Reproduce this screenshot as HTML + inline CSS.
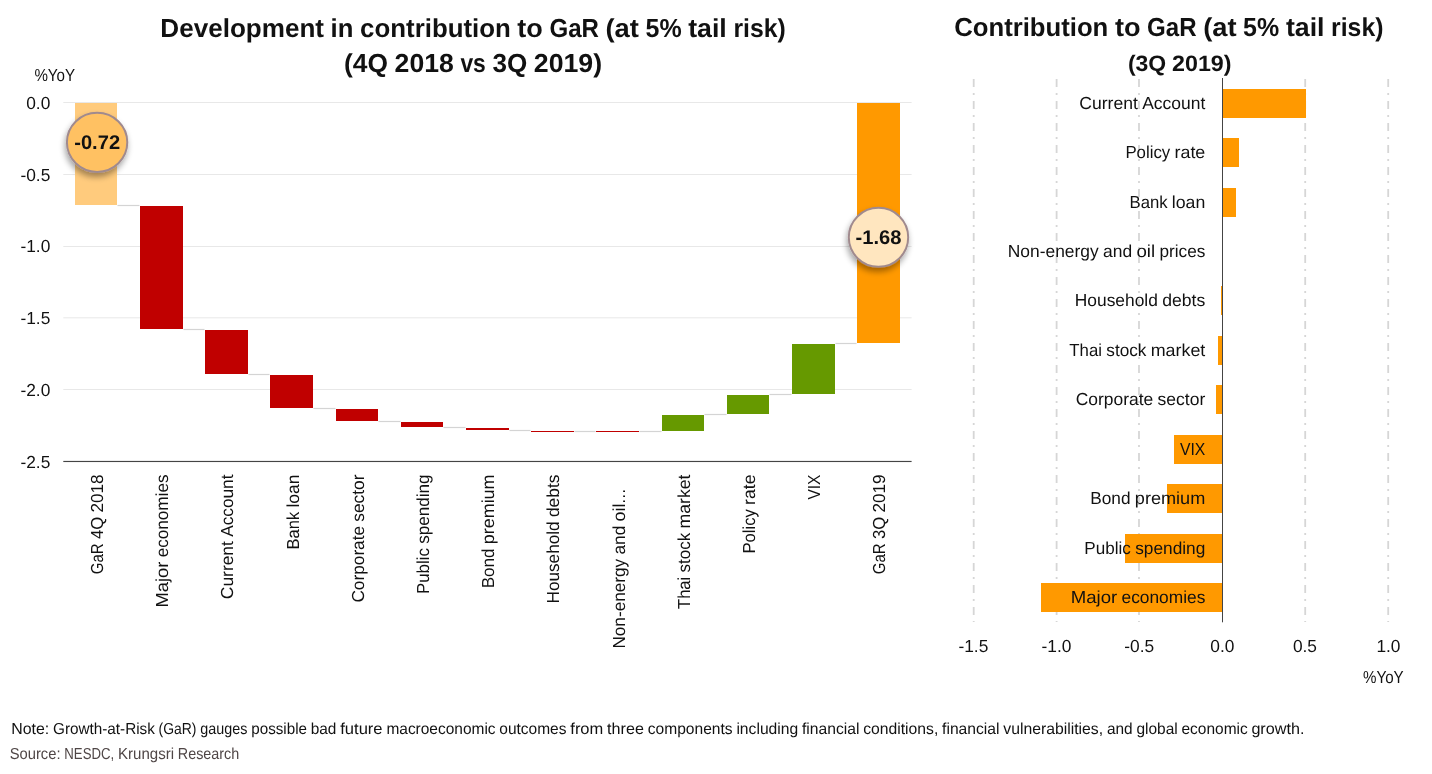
<!DOCTYPE html>
<html><head><meta charset="utf-8"><title>GaR contribution</title>
<style>html,body{margin:0;padding:0;background:#fff}svg{display:block}text{font-family:'Liberation Sans', sans-serif;text-rendering:geometricPrecision}</style></head>
<body><svg width="1432" height="774" viewBox="0 0 1432 774">
<defs><filter id="sh" x="-30%" y="-30%" width="160%" height="170%"><feGaussianBlur in="SourceAlpha" stdDeviation="3"/><feOffset dx="-1.5" dy="3.5"/><feComponentTransfer><feFuncA type="linear" slope="0.37"/></feComponentTransfer><feMerge><feMergeNode/><feMergeNode in="SourceGraphic"/></feMerge></filter></defs>
<rect width="1432" height="774" fill="#fff"/>
<rect x="63.3" y="102" width="848.3" height="1" fill="#e8e8e8"/>
<rect x="63.3" y="174" width="848.3" height="1" fill="#e8e8e8"/>
<rect x="63.3" y="246" width="848.3" height="1" fill="#e8e8e8"/>
<rect x="63.3" y="317.3" width="848.3" height="1" fill="#e8e8e8"/>
<rect x="63.3" y="389" width="848.3" height="1" fill="#e8e8e8"/>
<rect x="117.5" y="204.9" width="22.0" height="1.2" fill="#d4d4d4"/>
<rect x="183.5" y="328.9" width="21.0" height="1.2" fill="#d4d4d4"/>
<rect x="248.5" y="373.9" width="21.0" height="1.2" fill="#d4d4d4"/>
<rect x="313.5" y="407.9" width="22.0" height="1.2" fill="#d4d4d4"/>
<rect x="378.5" y="420.9" width="22.0" height="1.2" fill="#d4d4d4"/>
<rect x="443.5" y="426.9" width="22.0" height="1.2" fill="#d4d4d4"/>
<rect x="509.5" y="429.9" width="21.0" height="1.2" fill="#d4d4d4"/>
<rect x="574.5" y="430.9" width="21.0" height="1.2" fill="#d4d4d4"/>
<rect x="639.5" y="430.9" width="22.0" height="1.2" fill="#d4d4d4"/>
<rect x="704.5" y="413.9" width="22.0" height="1.2" fill="#d4d4d4"/>
<rect x="769.5" y="393.9" width="22.0" height="1.2" fill="#d4d4d4"/>
<rect x="835.5" y="342.9" width="21.0" height="1.2" fill="#d4d4d4"/>
<rect x="75" y="103" width="42" height="102" fill="#FFCB7D"/>
<rect x="140" y="206" width="43" height="123" fill="#C00000"/>
<rect x="205" y="330" width="43" height="44" fill="#C00000"/>
<rect x="270" y="375" width="43" height="33" fill="#C00000"/>
<rect x="336" y="409" width="42" height="12" fill="#C00000"/>
<rect x="401" y="422" width="42" height="5" fill="#C00000"/>
<rect x="466" y="428" width="43" height="2" fill="#C00000"/>
<rect x="531" y="431" width="43" height="1" fill="#C00000"/>
<rect x="596" y="431" width="43" height="1" fill="#C00000"/>
<rect x="662" y="415" width="42" height="16" fill="#669900"/>
<rect x="727" y="395" width="42" height="19" fill="#669900"/>
<rect x="792" y="344" width="43" height="50" fill="#669900"/>
<rect x="857" y="103" width="43" height="240" fill="#FF9900"/>
<rect x="63.3" y="460.9" width="848.3" height="1.15" fill="#444"/>
<text transform="translate(50.3 108.7)" font-size="17.4" fill="#111"><tspan x="-24.1" textLength="24.1" lengthAdjust="spacingAndGlyphs">0.0</tspan></text>
<text transform="translate(50.3 180.5)" font-size="17.4" fill="#111"><tspan x="-29.9" textLength="29.9" lengthAdjust="spacingAndGlyphs">-0.5</tspan></text>
<text transform="translate(50.3 252.4)" font-size="17.4" fill="#111"><tspan x="-29.9" textLength="29.9" lengthAdjust="spacingAndGlyphs">-1.0</tspan></text>
<text transform="translate(50.3 324.2)" font-size="17.4" fill="#111"><tspan x="-29.9" textLength="29.9" lengthAdjust="spacingAndGlyphs">-1.5</tspan></text>
<text transform="translate(50.3 396.0)" font-size="17.4" fill="#111"><tspan x="-29.9" textLength="29.9" lengthAdjust="spacingAndGlyphs">-2.0</tspan></text>
<text transform="translate(50.3 467.8)" font-size="17.4" fill="#111"><tspan x="-29.9" textLength="29.9" lengthAdjust="spacingAndGlyphs">-2.5</tspan></text>
<text transform="translate(34.4 80.9)" font-size="17.4" fill="#111"><tspan x="0.0" textLength="40.7" lengthAdjust="spacingAndGlyphs">%YoY</tspan></text>
<text transform="translate(102.8 474.5) rotate(-90)" font-size="17.4" fill="#111"><tspan x="-99.8" textLength="31.0" lengthAdjust="spacingAndGlyphs">GaR</tspan> <tspan x="-64.5" textLength="22.2" lengthAdjust="spacingAndGlyphs">4Q</tspan> <tspan x="-38.1" textLength="38.1" lengthAdjust="spacingAndGlyphs">2018</tspan></text>
<text transform="translate(168.0 474.5) rotate(-90)" font-size="17.4" fill="#111"><tspan x="-133.1" textLength="46.0" lengthAdjust="spacingAndGlyphs">Major</tspan> <tspan x="-82.8" textLength="82.8" lengthAdjust="spacingAndGlyphs">economies</tspan></text>
<text transform="translate(233.2 474.5) rotate(-90)" font-size="17.4" fill="#111"><tspan x="-124.7" textLength="58.1" lengthAdjust="spacingAndGlyphs">Current</tspan> <tspan x="-62.3" textLength="62.3" lengthAdjust="spacingAndGlyphs">Account</tspan></text>
<text transform="translate(298.5 474.5) rotate(-90)" font-size="17.4" fill="#111"><tspan x="-74.9" textLength="37.6" lengthAdjust="spacingAndGlyphs">Bank</tspan> <tspan x="-33.1" textLength="33.1" lengthAdjust="spacingAndGlyphs">loan</tspan></text>
<text transform="translate(363.7 474.5) rotate(-90)" font-size="17.4" fill="#111"><tspan x="-128.1" textLength="76.7" lengthAdjust="spacingAndGlyphs">Corporate</tspan> <tspan x="-47.2" textLength="47.2" lengthAdjust="spacingAndGlyphs">sector</tspan></text>
<text transform="translate(428.9 474.5) rotate(-90)" font-size="17.4" fill="#111"><tspan x="-119.6" textLength="46.0" lengthAdjust="spacingAndGlyphs">Public</tspan> <tspan x="-69.3" textLength="69.3" lengthAdjust="spacingAndGlyphs">spending</tspan></text>
<text transform="translate(494.1 474.5) rotate(-90)" font-size="17.4" fill="#111"><tspan x="-113.8" textLength="39.9" lengthAdjust="spacingAndGlyphs">Bond</tspan> <tspan x="-69.7" textLength="69.7" lengthAdjust="spacingAndGlyphs">premium</tspan></text>
<text transform="translate(559.3 474.5) rotate(-90)" font-size="17.4" fill="#111"><tspan x="-129.0" textLength="82.1" lengthAdjust="spacingAndGlyphs">Household</tspan> <tspan x="-42.6" textLength="42.6" lengthAdjust="spacingAndGlyphs">debts</tspan></text>
<text transform="translate(624.6 488.8) rotate(-90)" font-size="17.4" fill="#111"><tspan x="-159.8" textLength="89.8" lengthAdjust="spacingAndGlyphs">Non-energy</tspan> <tspan x="-65.7" textLength="28.7" lengthAdjust="spacingAndGlyphs">and</tspan> <tspan x="-32.7" textLength="32.7" lengthAdjust="spacingAndGlyphs">oil...</tspan></text>
<text transform="translate(689.8 474.5) rotate(-90)" font-size="17.4" fill="#111"><tspan x="-134.5" textLength="32.3" lengthAdjust="spacingAndGlyphs">Thai</tspan> <tspan x="-97.9" textLength="39.6" lengthAdjust="spacingAndGlyphs">stock</tspan> <tspan x="-54.0" textLength="54.0" lengthAdjust="spacingAndGlyphs">market</tspan></text>
<text transform="translate(755.0 474.5) rotate(-90)" font-size="17.4" fill="#111"><tspan x="-79.0" textLength="44.3" lengthAdjust="spacingAndGlyphs">Policy</tspan> <tspan x="-30.4" textLength="30.4" lengthAdjust="spacingAndGlyphs">rate</tspan></text>
<text transform="translate(820.2 474.5) rotate(-90)" font-size="17.4" fill="#111"><tspan x="-25.1" textLength="25.1" lengthAdjust="spacingAndGlyphs">VIX</tspan></text>
<text transform="translate(885.4 474.5) rotate(-90)" font-size="17.4" fill="#111"><tspan x="-99.8" textLength="31.0" lengthAdjust="spacingAndGlyphs">GaR</tspan> <tspan x="-64.5" textLength="22.2" lengthAdjust="spacingAndGlyphs">3Q</tspan> <tspan x="-38.1" textLength="38.1" lengthAdjust="spacingAndGlyphs">2019</tspan></text>
<text transform="translate(473.0 36.8)" font-size="26" font-weight="700" fill="#111"><tspan x="-312.7" textLength="163.7" lengthAdjust="spacingAndGlyphs">Development</tspan> <tspan x="-142.4" textLength="22.8" lengthAdjust="spacingAndGlyphs">in</tspan> <tspan x="-112.9" textLength="150.7" lengthAdjust="spacingAndGlyphs">contribution</tspan> <tspan x="44.3" textLength="25.5" lengthAdjust="spacingAndGlyphs">to</tspan> <tspan x="76.5" textLength="49.5" lengthAdjust="spacingAndGlyphs">GaR</tspan> <tspan x="132.5" textLength="33.4" lengthAdjust="spacingAndGlyphs">(at</tspan> <tspan x="172.5" textLength="36.1" lengthAdjust="spacingAndGlyphs">5%</tspan> <tspan x="215.2" textLength="38.6" lengthAdjust="spacingAndGlyphs">tail</tspan> <tspan x="260.4" textLength="52.3" lengthAdjust="spacingAndGlyphs">risk)</tspan></text>
<text transform="translate(473.1 71.7)" font-size="26" font-weight="700" fill="#111"><tspan x="-129.0" textLength="43.9" lengthAdjust="spacingAndGlyphs">(4Q</tspan> <tspan x="-78.5" textLength="59.2" lengthAdjust="spacingAndGlyphs">2018</tspan> <tspan x="-12.7" textLength="25.4" lengthAdjust="spacingAndGlyphs">vs</tspan> <tspan x="19.3" textLength="34.8" lengthAdjust="spacingAndGlyphs">3Q</tspan> <tspan x="60.7" textLength="68.3" lengthAdjust="spacingAndGlyphs">2019)</tspan></text>
<ellipse cx="97.1" cy="142.35" rx="30.2" ry="29.55" fill="#FFC162" stroke="#a08a8e" stroke-width="2" filter="url(#sh)"/>
<text transform="translate(97.1 148.7)" font-size="19.8" font-weight="700" fill="#111"><tspan x="-22.9" textLength="45.9" lengthAdjust="spacingAndGlyphs">-0.72</tspan></text>
<ellipse cx="878.5" cy="237.35" rx="29.7" ry="29.5" fill="#FFE6BF" stroke="#a08a8e" stroke-width="2" filter="url(#sh)"/>
<text transform="translate(878.5 243.7)" font-size="19.8" font-weight="700" fill="#111"><tspan x="-22.9" textLength="45.9" lengthAdjust="spacingAndGlyphs">-1.68</tspan></text>
<line x1="973.7" y1="79" x2="973.7" y2="622" stroke="#d6d6d6" stroke-width="1.8" stroke-dasharray="8 6 2 6"/>
<line x1="1056.6" y1="79" x2="1056.6" y2="622" stroke="#d6d6d6" stroke-width="1.8" stroke-dasharray="8 6 2 6"/>
<line x1="1139.0" y1="79" x2="1139.0" y2="622" stroke="#d6d6d6" stroke-width="1.8" stroke-dasharray="8 6 2 6"/>
<line x1="1305.2" y1="79" x2="1305.2" y2="622" stroke="#d6d6d6" stroke-width="1.8" stroke-dasharray="8 6 2 6"/>
<line x1="1388.2" y1="79" x2="1388.2" y2="622" stroke="#d6d6d6" stroke-width="1.8" stroke-dasharray="8 6 2 6"/>
<rect x="1223" y="89" width="83" height="29" fill="#FF9900"/>
<rect x="1223" y="138" width="16" height="29" fill="#FF9900"/>
<rect x="1223" y="188" width="13" height="29" fill="#FF9900"/>
<rect x="1221" y="286" width="1" height="29" fill="#FF9900"/>
<rect x="1218" y="336" width="4" height="29" fill="#FF9900"/>
<rect x="1216" y="385" width="6" height="29" fill="#FF9900"/>
<rect x="1174" y="435" width="48" height="29" fill="#FF9900"/>
<rect x="1167" y="484" width="55" height="29" fill="#FF9900"/>
<rect x="1125" y="534" width="97" height="29" fill="#FF9900"/>
<rect x="1041" y="583" width="181" height="29" fill="#FF9900"/>
<rect x="1222" y="78" width="1" height="544.3" fill="#444"/>
<text transform="translate(1205.3 108.8)" font-size="17.4" fill="#111"><tspan x="-126.1" textLength="58.7" lengthAdjust="spacingAndGlyphs">Current</tspan> <tspan x="-63.1" textLength="63.1" lengthAdjust="spacingAndGlyphs">Account</tspan></text>
<text transform="translate(1205.3 157.8)" font-size="17.4" fill="#111"><tspan x="-79.9" textLength="44.8" lengthAdjust="spacingAndGlyphs">Policy</tspan> <tspan x="-30.8" textLength="30.8" lengthAdjust="spacingAndGlyphs">rate</tspan></text>
<text transform="translate(1205.3 207.8)" font-size="17.4" fill="#111"><tspan x="-75.8" textLength="38.1" lengthAdjust="spacingAndGlyphs">Bank</tspan> <tspan x="-33.5" textLength="33.5" lengthAdjust="spacingAndGlyphs">loan</tspan></text>
<text transform="translate(1205.3 256.8)" font-size="17.4" fill="#111"><tspan x="-197.5" textLength="90.9" lengthAdjust="spacingAndGlyphs">Non-energy</tspan> <tspan x="-102.3" textLength="29.1" lengthAdjust="spacingAndGlyphs">and</tspan> <tspan x="-68.9" textLength="18.7" lengthAdjust="spacingAndGlyphs">oil</tspan> <tspan x="-45.9" textLength="45.9" lengthAdjust="spacingAndGlyphs">prices</tspan></text>
<text transform="translate(1205.3 305.8)" font-size="17.4" fill="#111"><tspan x="-130.5" textLength="83.1" lengthAdjust="spacingAndGlyphs">Household</tspan> <tspan x="-43.1" textLength="43.1" lengthAdjust="spacingAndGlyphs">debts</tspan></text>
<text transform="translate(1205.3 355.8)" font-size="17.4" fill="#111"><tspan x="-136.0" textLength="32.7" lengthAdjust="spacingAndGlyphs">Thai</tspan> <tspan x="-99.0" textLength="40.1" lengthAdjust="spacingAndGlyphs">stock</tspan> <tspan x="-54.6" textLength="54.6" lengthAdjust="spacingAndGlyphs">market</tspan></text>
<text transform="translate(1205.3 404.8)" font-size="17.4" fill="#111"><tspan x="-129.6" textLength="77.6" lengthAdjust="spacingAndGlyphs">Corporate</tspan> <tspan x="-47.7" textLength="47.7" lengthAdjust="spacingAndGlyphs">sector</tspan></text>
<text transform="translate(1205.3 454.8)" font-size="17.4" fill="#111"><tspan x="-25.4" textLength="25.4" lengthAdjust="spacingAndGlyphs">VIX</tspan></text>
<text transform="translate(1205.3 503.8)" font-size="17.4" fill="#111"><tspan x="-115.1" textLength="40.3" lengthAdjust="spacingAndGlyphs">Bond</tspan> <tspan x="-70.5" textLength="70.5" lengthAdjust="spacingAndGlyphs">premium</tspan></text>
<text transform="translate(1205.3 553.8)" font-size="17.4" fill="#111"><tspan x="-121.0" textLength="46.5" lengthAdjust="spacingAndGlyphs">Public</tspan> <tspan x="-70.1" textLength="70.1" lengthAdjust="spacingAndGlyphs">spending</tspan></text>
<text transform="translate(1205.3 602.8)" font-size="17.4" fill="#111"><tspan x="-134.6" textLength="46.5" lengthAdjust="spacingAndGlyphs">Major</tspan> <tspan x="-83.8" textLength="83.8" lengthAdjust="spacingAndGlyphs">economies</tspan></text>
<text transform="translate(973.3 651.9)" font-size="17.4" fill="#111"><tspan x="-14.9" textLength="29.9" lengthAdjust="spacingAndGlyphs">-1.5</tspan></text>
<text transform="translate(1056.4 651.9)" font-size="17.4" fill="#111"><tspan x="-14.9" textLength="29.9" lengthAdjust="spacingAndGlyphs">-1.0</tspan></text>
<text transform="translate(1139.2 651.9)" font-size="17.4" fill="#111"><tspan x="-14.9" textLength="29.9" lengthAdjust="spacingAndGlyphs">-0.5</tspan></text>
<text transform="translate(1222.3 651.9)" font-size="17.4" fill="#111"><tspan x="-12.0" textLength="24.1" lengthAdjust="spacingAndGlyphs">0.0</tspan></text>
<text transform="translate(1304.9 651.9)" font-size="17.4" fill="#111"><tspan x="-12.0" textLength="24.1" lengthAdjust="spacingAndGlyphs">0.5</tspan></text>
<text transform="translate(1388.4 651.9)" font-size="17.4" fill="#111"><tspan x="-12.0" textLength="24.1" lengthAdjust="spacingAndGlyphs">1.0</tspan></text>
<text transform="translate(1363.0 682.6)" font-size="17.4" fill="#111"><tspan x="0.0" textLength="40.7" lengthAdjust="spacingAndGlyphs">%YoY</tspan></text>
<text transform="translate(1168.8 35.7)" font-size="26" font-weight="700" fill="#111"><tspan x="-214.6" textLength="154.1" lengthAdjust="spacingAndGlyphs">Contribution</tspan> <tspan x="-53.9" textLength="25.6" lengthAdjust="spacingAndGlyphs">to</tspan> <tspan x="-21.7" textLength="49.5" lengthAdjust="spacingAndGlyphs">GaR</tspan> <tspan x="34.4" textLength="33.4" lengthAdjust="spacingAndGlyphs">(at</tspan> <tspan x="74.3" textLength="36.1" lengthAdjust="spacingAndGlyphs">5%</tspan> <tspan x="117.1" textLength="38.6" lengthAdjust="spacingAndGlyphs">tail</tspan> <tspan x="162.3" textLength="52.3" lengthAdjust="spacingAndGlyphs">risk)</tspan></text>
<text transform="translate(1179.7 70.6)" font-size="22.3" font-weight="700" fill="#111"><tspan x="-51.8" textLength="38.3" lengthAdjust="spacingAndGlyphs">(3Q</tspan> <tspan x="-7.7" textLength="59.5" lengthAdjust="spacingAndGlyphs">2019)</tspan></text>
<text transform="translate(11.2 733.9)" font-size="15.9" fill="#111"><tspan x="0.0" textLength="38.0" lengthAdjust="spacingAndGlyphs">Note:</tspan> <tspan x="41.8" textLength="101.9" lengthAdjust="spacingAndGlyphs">Growth-at-Risk</tspan> <tspan x="147.4" textLength="37.9" lengthAdjust="spacingAndGlyphs">(GaR)</tspan> <tspan x="189.1" textLength="47.1" lengthAdjust="spacingAndGlyphs">gauges</tspan> <tspan x="240.1" textLength="55.7" lengthAdjust="spacingAndGlyphs">possible</tspan> <tspan x="299.5" textLength="25.7" lengthAdjust="spacingAndGlyphs">bad</tspan> <tspan x="329.0" textLength="42.4" lengthAdjust="spacingAndGlyphs">future</tspan> <tspan x="375.2" textLength="109.2" lengthAdjust="spacingAndGlyphs">macroeconomic</tspan> <tspan x="488.1" textLength="67.2" lengthAdjust="spacingAndGlyphs">outcomes</tspan> <tspan x="559.1" textLength="33.0" lengthAdjust="spacingAndGlyphs">from</tspan> <tspan x="595.9" textLength="36.8" lengthAdjust="spacingAndGlyphs">three</tspan> <tspan x="636.5" textLength="84.9" lengthAdjust="spacingAndGlyphs">components</tspan> <tspan x="725.2" textLength="61.8" lengthAdjust="spacingAndGlyphs">including</tspan> <tspan x="790.8" textLength="57.4" lengthAdjust="spacingAndGlyphs">financial</tspan> <tspan x="852.0" textLength="75.1" lengthAdjust="spacingAndGlyphs">conditions,</tspan> <tspan x="930.9" textLength="57.4" lengthAdjust="spacingAndGlyphs">financial</tspan> <tspan x="992.1" textLength="99.8" lengthAdjust="spacingAndGlyphs">vulnerabilities,</tspan> <tspan x="1095.7" textLength="25.7" lengthAdjust="spacingAndGlyphs">and</tspan> <tspan x="1125.2" textLength="41.3" lengthAdjust="spacingAndGlyphs">global</tspan> <tspan x="1170.3" textLength="66.2" lengthAdjust="spacingAndGlyphs">economic</tspan> <tspan x="1240.2" textLength="53.0" lengthAdjust="spacingAndGlyphs">growth.</tspan></text>
<text transform="translate(9.7 758.9)" font-size="15.9" fill="#4f4646"><tspan x="0.0" textLength="50.8" lengthAdjust="spacingAndGlyphs">Source:</tspan> <tspan x="54.6" textLength="49.9" lengthAdjust="spacingAndGlyphs">NESDC,</tspan> <tspan x="108.3" textLength="56.0" lengthAdjust="spacingAndGlyphs">Krungsri</tspan> <tspan x="168.1" textLength="61.5" lengthAdjust="spacingAndGlyphs">Research</tspan></text>
</svg></body></html>
